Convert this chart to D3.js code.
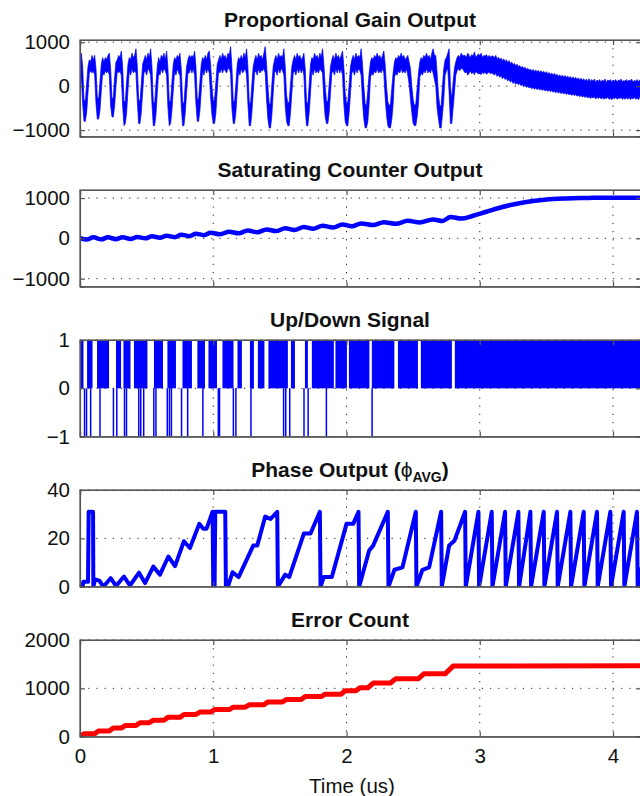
<!DOCTYPE html>
<html><head><meta charset="utf-8">
<script src="https://cdn.jsdelivr.net/npm/d3@7/dist/d3.min.js"></script>
<style>
body{margin:0;background:#fff}
svg{display:block}
text{font-family:"Liberation Sans",Arial,Helvetica,sans-serif;fill:#111}
</style>
</head><body><svg id="c" width="640" height="796"></svg>
<script>
// ---------------- DATA ----------------
const xTicks = [0, 1, 2, 3, 4];
const xLabel = "Time (us)";

// Panel 1: Proportional Gain Output — dense signal, per-bin max / min (bin = pgStep us)
const pgStep = 0.01;
const pgMax = [350,750,450,-300,-350,50,450,600,550,700,
600,700,400,-250,-300,100,500,650,550,650,
600,700,750,400,-300,-250,200,550,600,700,
650,800,450,-350,-350,100,500,650,600,750,
650,700,850,450,-300,-350,50,500,600,700,
600,750,650,850,450,-350,-400,50,450,650,
550,700,650,750,600,800,400,-350,-350,100,
500,650,600,700,650,750,400,-350,-400,50,
450,600,700,650,700,650,800,450,-300,-300,
100,500,650,600,700,600,750,800,500,0,
-350,-300,100,500,600,700,600,750,650,700,
600,750,700,900,450,-350,-350,50,500,650,
600,700,600,750,650,850,450,-350,-400,50,
450,600,700,600,750,650,700,600,750,900,
500,0,-400,-400,50,450,600,700,600,750,
650,700,650,850,450,-200,-400,-350,50,450,
600,700,600,750,650,700,600,650,750,400,
-350,-400,50,500,650,600,750,650,700,600,
750,650,850,500,0,-350,-350,50,450,600,
700,600,750,650,700,600,700,800,450,-150,
-400,-350,50,450,600,700,600,750,650,700,
650,850,500,0,-400,-450,-100,300,550,650,
600,700,650,750,650,700,600,700,800,500,
0,-350,-450,-400,-50,300,550,650,600,700,
650,750,650,700,600,650,700,550,400,0,
-300,-450,-400,-50,300,550,650,600,700,650,
750,650,700,600,750,850,700,700,300,-200,
-450,-450,0,400,600,650,750,850,0,-300,
100,400,550,650,700,650,750,700,700,
700,650,750,700,650,720,680,780,650,700,730,
700,750,650,700,680,720,650,700,660,690,
680,650,700,620,660,600,640,580,620,560,
600,540,580,510,550,480,520,460,500,440,
470,420,450,400,430,380,410,360,390,340,
380,330,370,320,360,310,350,300,340,290,
330,280,310,260,300,250,290,240,270,220,
260,210,250,200,240,190,230,180,220,170,
210,160,200,150,190,140,180,130,170,120,
160,110,170,100,150,120,160,90,140,110,
150,90,140,110,160,80,140,120,150,90,
140,110,150,90,140,120,160,100,130,110,
150,100,140,120,160,90,130,110,150,100,140,120];
const pgMin = [0,200,-400,-800,-800,-600,-150,300,350,300,
350,250,-400,-750,-750,-550,-100,300,250,350,
300,350,250,-450,-700,-700,-450,0,350,300,
350,250,-450,-900,-850,-600,-100,350,250,400,
300,350,300,-350,-850,-850,-600,-150,300,350,
250,400,350,250,-400,-900,-900,-650,-150,300,
250,400,300,400,350,250,-500,-900,-850,-550,
-100,350,250,400,300,250,-450,-900,-900,-600,
-150,300,300,400,300,400,250,-400,-800,-800,
-550,-100,350,250,400,300,400,300,-250,-650,
-850,-850,-600,-100,350,300,400,300,400,350,
300,400,400,300,-500,-850,-850,-600,-100,350,
250,400,300,350,400,250,-400,-900,-900,-600,
-150,300,350,250,400,300,350,350,400,300,
-300,-750,-950,-950,-650,-150,300,350,250,400,
300,400,350,250,-450,-800,-900,-900,-600,-150,
300,350,250,400,300,400,300,400,250,-500,
-900,-900,-600,-150,350,250,400,300,350,300,
400,350,300,-300,-700,-850,-850,-600,-150,300,
350,250,400,300,400,300,400,250,-400,-800,
-900,-900,-600,-150,300,350,250,400,300,400,
350,250,-350,-750,-950,-950,-800,-400,200,300,
250,350,300,400,300,350,300,400,300,-250,
-650,-900,-950,-950,-750,-400,200,300,250,350,
300,400,300,350,300,400,250,50,-300,-600,
-850,-900,-900,-700,-400,200,300,250,350,300,
400,300,350,300,400,300,150,0,-500,-750,
-950,-950,-650,-300,250,350,400,-150,-850,-850,
-500,-150,250,350,400,350,400,400,350,
300,330,250,300,340,280,320,260,340,300,280,
300,260,320,280,330,270,300,320,280,300,
280,250,300,220,260,200,240,170,210,150,
180,120,150,90,130,60,100,40,80,30,
60,10,40,-10,20,-30,0,-40,-20,-60,
-30,-70,-40,-80,-50,-90,-60,-100,-70,-110,
-80,-120,-90,-130,-100,-140,-110,-150,-120,-160,
-130,-170,-140,-180,-150,-190,-160,-200,-170,-210,
-180,-220,-190,-230,-200,-240,-210,-250,-220,-260,
-230,-270,-240,-280,-250,-270,-240,-290,-260,-280,
-250,-290,-260,-300,-270,-280,-250,-300,-270,-310,
-260,-290,-250,-300,-270,-280,-260,-300,-270,-300,
-260,-300,-250,-310,-270,-290,-250,-300,-270,-310,-260,-280];
const pgTicks = [-1000, 0, 1000];

// Panel 2: Saturating Counter Output
const scTime = [0,0.05,0.1,0.16,0.21,0.27,0.32,0.38,0.43,0.49,0.54,0.6,0.65,0.71,0.76,0.82,0.87,0.93,0.98,1.05,1.12,1.19,1.26,1.33,1.4,1.47,1.54,1.61,1.68,1.75,1.82,1.9,1.97,2.04,2.11,2.2,2.28,2.37,2.46,2.55,2.65,2.72,2.78,2.86,2.95,3.05,3.15,3.25,3.35,3.45,3.55,3.65,3.75,3.85,3.95,4.05,4.21];
const scValues = [5,-30,25,-25,25,-20,30,-15,35,0,50,15,65,30,90,55,115,80,140,100,165,125,195,150,220,180,250,210,280,240,310,270,345,300,370,330,400,360,435,395,470,430,530,490,560,660,760,840,900,945,975,990,1000,1005,1010,1010,1010];
const scTicks = [-1000, 0, 1000];

// Panel 3: Up/Down Signal
const udUpBlocks = [[0,0.026],[0.053,0.094],[0.128,0.218],[0.27,0.308],[0.326,0.379],[0.405,0.506],[0.555,0.623],[0.656,0.72],[0.769,0.84],[0.881,0.938],[0.964,1.028],[1.069,1.152],[1.182,1.215],[1.275,1.305],[1.335,1.384],[1.414,1.56],[1.583,1.613],[1.688,1.71],[1.74,1.905],[1.917,2.003],[2.018,2.172],[2.19,2.359],[2.386,2.536],[2.558,2.791],[2.813,4.21]];
const udDownPulses = [0.034,0.049,0.08,0.15,0.251,0.276,0.334,0.349,0.441,0.456,0.478,0.554,0.57,0.655,0.671,0.686,0.762,0.808,0.922,1.038,1.047,1.151,1.17,1.283,1.528,1.544,1.574,1.681,1.712,1.849,2.192];
const udTicks = [-1, 0, 1];

// Panel 4: Phase Output
const phTime = [0,0.02,0.025,0.06,0.065,0.098,0.1,0.113,0.145,0.175,0.23,0.27,0.33,0.375,0.443,0.488,0.55,0.6,0.663,0.713,0.78,0.825,0.895,0.925,0.95,0.995,1.0,1.01,1.015,1.09,1.095,1.11,1.145,1.19,1.3,1.33,1.39,1.43,1.48,1.485,1.54,1.57,1.68,1.73,1.8,1.805,1.83,1.89,2.0,2.05,2.09,2.095,2.17,2.2,2.31,2.315,2.36,2.42,2.52,2.525,2.57,2.62,2.71,2.715,2.77,2.81,2.89,2.895,2.99,2.995,3.09,3.095,3.19,3.195,3.29,3.295,3.38,3.385,3.48,3.485,3.58,3.585,3.68,3.685,3.78,3.785,3.88,3.885,3.98,3.985,4.08,4.085,4.18,4.185,4.21];
const phValues = [0,0,2,2,31,31,0,3,2.5,0,3.5,0.3,4.2,0.5,5.8,1.5,8.3,5,12.5,8.5,18.8,16,26,24,24,31,0,0,31,31,0,0,6,4,17,17,29,28,31,0,5,4,22,22,31,0,4,4,26,26,31,0,15,17,31,0,7,8,31,0,7,8,31,0,17,19,31,0,31,0,31,0,31,0,31,0,31,0,31,0,31,0,31,0,31,0,31,0,31,0,31,0,31,0,8];
const phTicks = [0, 20, 40];

// Panel 5: Error Count
const ecTime = [0,0.03,0.11,0.14,0.22,0.25,0.31,0.34,0.42,0.45,0.52,0.55,0.63,0.66,0.75,0.78,0.87,0.9,0.98,1.01,1.12,1.15,1.24,1.27,1.38,1.41,1.52,1.55,1.66,1.69,1.81,1.84,1.96,1.99,2.07,2.1,2.16,2.2,2.33,2.37,2.54,2.58,2.74,2.8,4.21];
const ecValues = [0,60,60,120,120,180,180,230,230,290,290,340,340,400,400,460,460,510,510,560,560,610,610,660,660,720,720,770,770,830,830,880,880,950,950,1010,1010,1110,1110,1200,1200,1300,1300,1460,1470];
const ecTicks = [0, 1000, 2000];

// ---------------- DRAWING ----------------
const svg = d3.select("#c");
const x = d3.scaleLinear().domain([0, 4.21]).range([80, 641]);
const panelTop = [40, 190, 340, 490, 640];
const panelH = 96.7;
const axisColor = "#555";
const gridDash = "1.2,7";

function makePanel(i, domain, ticks, title) {
  const top = panelTop[i], bot = top + panelH;
  const y = d3.scaleLinear().domain(domain).range([bot, top]);
  const g = svg.append("g");
  const cid = "clip" + i;
  svg.append("clipPath").attr("id", cid).append("rect")
    .attr("x", 80).attr("y", top).attr("width", 561).attr("height", panelH);
  const grid = g.append("g").attr("stroke", "#222").attr("stroke-width", 1).attr("stroke-dasharray", gridDash);
  xTicks.filter(t => t > 0).forEach(t => grid.append("line")
    .attr("x1", x(t)).attr("x2", x(t)).attr("y1", top).attr("y2", bot));
  ticks.forEach(v => grid.append("line")
    .attr("x1", 80).attr("x2", 641).attr("y1", y(v)).attr("y2", y(v)));
  const data = g.append("g").attr("clip-path", `url(#${cid})`);
  const yAxis = d3.axisLeft(y).tickValues(ticks).tickSize(-5).tickPadding(10)
    .tickFormat(d => d < 0 ? "\u2212" + Math.abs(d) : String(d));
  const ya = g.append("g").attr("transform", "translate(80,0)").call(yAxis);
  const yr = g.append("g").attr("transform", "translate(641,0)").call(d3.axisRight(y).tickValues(ticks).tickSize(-5).tickFormat(""));
  const xb = g.append("g").attr("transform", `translate(0,${bot})`).call(d3.axisBottom(x).tickValues(xTicks).tickSize(-5).tickPadding(12).tickFormat(i === 4 ? d3.format("d") : ""));
  const xt = g.append("g").attr("transform", `translate(0,${top})`).call(d3.axisTop(x).tickValues(xTicks).tickSize(-5).tickFormat(""));
  [ya, yr, xb, xt].forEach(a => {
    a.select(".domain").attr("stroke", axisColor).attr("stroke-width", 1.2);
    a.selectAll(".tick line").attr("stroke", axisColor).attr("stroke-width", 1.2);
    a.selectAll("text").attr("font-size", 20.5).attr("fill", "#111")
      .attr("font-family", '"Liberation Sans",Arial,sans-serif');
  });
  g.append("rect").attr("x", 80).attr("y", top).attr("width", 561).attr("height", panelH)
    .attr("fill", "none").attr("stroke", axisColor).attr("stroke-width", 1.2);
  const tt = svg.append("text").attr("x", 350).attr("y", top - 13)
    .attr("text-anchor", "middle").attr("font-size", 21).attr("font-weight", "bold");
  if (typeof title === "string") tt.text(title);
  else title(tt);
  return { data, y, g };
}

// Panel 1
{
  const p = makePanel(0, [-1150, 1050], pgTicks, "Proportional Gain Output");
  const band = d3.area()
    .x((d, i) => x(i * pgStep))
    .y0((d, i) => p.y(pgMin[i]))
    .y1(d => p.y(d));
  p.data.append("path").datum(pgMax).attr("d", band)
    .attr("fill", "#0000ff").attr("stroke", "#0000ff").attr("stroke-width", 0.7)
    .attr("stroke-linejoin", "round");
}
// Panel 2
{
  const p = makePanel(1, [-1200, 1200], scTicks, "Saturating Counter Output");
  const pts = scTime.map((t, i) => [t, scValues[i]]);
  const line = d3.line().x(d => x(d[0])).y(d => p.y(d[1])).curve(d3.curveMonotoneX);
  p.data.append("path").datum(pts).attr("d", line)
    .attr("fill", "none").attr("stroke", "#0000ff").attr("stroke-width", 4.5);
}
// Panel 3
{
  const p = makePanel(2, [-1, 1], udTicks, "Up/Down Signal");
  p.data.selectAll("rect.up").data(udUpBlocks).enter().append("rect")
    .attr("x", d => x(d[0])).attr("width", d => Math.max(1, x(d[1]) - x(d[0])))
    .attr("y", p.y(1)).attr("height", p.y(0) - p.y(1)).attr("fill", "#0000ff");
  p.data.selectAll("line.dn").data(udDownPulses).enter().append("line")
    .attr("x1", d => x(d)).attr("x2", d => x(d)).attr("y1", p.y(0)).attr("y2", p.y(-1))
    .attr("stroke", "#0000ff").attr("stroke-width", 1.5);
}
// Panel 4
{
  const p = makePanel(3, [0, 40], phTicks, tt => {
    tt.append("tspan").text("Phase Output (");
    tt.append("tspan").attr("font-weight", "normal").text("\u03D5");
    tt.append("tspan").attr("font-size", 14).attr("dy", 5).text("AVG");
    tt.append("tspan").attr("dy", -5).text(")");
  });
  const pts = phTime.map((t, i) => [t, phValues[i]]);
  const line = d3.line().x(d => x(d[0])).y(d => p.y(d[1]));
  p.data.append("path").datum(pts).attr("d", line)
    .attr("fill", "none").attr("stroke", "#0000ff").attr("stroke-width", 4).attr("stroke-linejoin", "round");
}
// Panel 5
{
  const p = makePanel(4, [0, 2000], ecTicks, "Error Count");
  const pts = ecTime.map((t, i) => [t, ecValues[i]]);
  const line = d3.line().x(d => x(d[0])).y(d => p.y(d[1]));
  p.data.append("path").datum(pts).attr("d", line)
    .attr("fill", "none").attr("stroke", "#ff0000").attr("stroke-width", 5).attr("stroke-linejoin", "round");
}
svg.append("text").attr("x", 352).attr("y", 793).attr("text-anchor", "middle")
  .attr("font-size", 20.5).text(xLabel);
</script>
</body></html>
